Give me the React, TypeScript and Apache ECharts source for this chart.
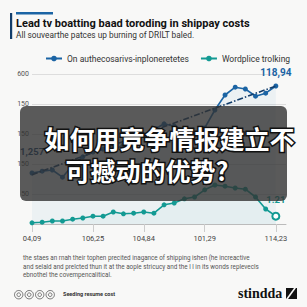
import React, { useEffect, useRef } from "react";
import * as echarts from "echarts";

const titleText = "Lead tv boatting baad toroding in shippay costs";
const subtitleText = "All souvearthe patces up burning of DRILT baled.";
const seriesNames = ["On authecosarivs-inploneretetes", "Wordplice trolking"];
const categories = [
  "04,09", "", "", "", "", "", "106,25", "", "", "", "", "104,84", "", "",
  "", "", "", "101,29", "", "", "", "", "", "", "114,23", "",
];
const yTickLabels = ["", "50", "150", "150", "150", "600"];
const blueValues = [85, 88, 90, 78, 98, 112, 120, 125, 123, 132, 140, 148, 157, 167, 163, 157, 148, 160, 190, 215, 228, 225, 213, 218, 230];
const tealValues = [2, 3, 5, 5, 8, 10, 13, 13, 20, 17, 18, 20, 18, 32, 35, 42, 45, 57, 65, 63, 60, 58, 45, 25, 13];
const trendStart = 82;
const trendEnd = 230;
const blueEndLabel = "118,94";
const blueStartLabel = "1,257";
const tealEndLabel = "1.21";
const noteLines = [
  "the staes an rnah their tophen precited inagance of shipping ishen (he increactive",
  "and selald and prelcted thun it at the aople stricucy and the l l in its wonds replevecls",
  "ebnothel the covempencalitical.",
];
const footerText = "Seeding resume cost";
const brandText = "stindda";
const overlayLines = ["如何用竞争情报建立不", "可撼动的优势?"];

const BLUE = "#1b64a4";
const NAVY = "#123d6b";
const TEAL = "#139a93";

export default function App() {
  const ref = useRef<HTMLDivElement>(null);
  useEffect(() => {
    if (!ref.current) return;
    const chart = echarts.init(ref.current, null, { renderer: "svg" });
    const n = blueValues.length;
    const trend = blueValues.map((_, i) => (i === 0 ? trendStart : i === n - 1 ? trendEnd : null));
    const blueData = blueValues.map((v, i) => {
      if (i === 0) {
        return {
          value: v,
          label: { show: true, formatter: blueStartLabel, position: "top", offset: [0, -9], color: NAVY, fontWeight: "bold", fontSize: 9.5, fontFamily: "Roboto" },
        };
      }
      if (i === n - 1) {
        return {
          value: v,
          label: { show: true, formatter: blueEndLabel, position: "top", offset: [0, -1], color: BLUE, fontWeight: "bold", fontSize: 10, fontFamily: "Roboto" },
        };
      }
      return v;
    });
    const tealData = tealValues.map((v, i) => {
      if (i === tealValues.length - 1) {
        return {
          value: v,
          symbol: "emptyCircle",
          symbolSize: 7,
          label: { show: true, formatter: tealEndLabel, position: "top", offset: [0, -2], color: TEAL, fontWeight: "bold", fontSize: 9.5, fontFamily: "Roboto" },
        };
      }
      return v;
    });
    const isTick = (i: number) => categories[i] !== "";
    chart.setOption({
      animation: false,
      backgroundColor: "#f8f8f7",
      textStyle: { fontFamily: "Roboto" },
      grid: { left: 32, right: 21, top: 74, bottom: 83 },
      legend: {
        data: seriesNames,
        left: 40,
        top: 49,
        itemWidth: 16,
        itemHeight: 7,
        itemGap: 11,
        textStyle: { fontSize: 8.5, color: "#333", fontFamily: "Roboto" },
      },
      xAxis: {
        type: "category",
        data: categories,
        boundaryGap: false,
        axisLine: { lineStyle: { color: "#bbb" } },
        axisTick: { show: true, interval: (i: number) => isTick(i), length: 8, lineStyle: { color: "#ccc" } },
        axisLabel: { interval: (i: number) => isTick(i), fontSize: 7.5, color: "#444", margin: 10 },
      },
      yAxis: {
        type: "value",
        min: 0,
        max: 250,
        interval: 50,
        axisLabel: {
          fontSize: 7,
          color: "#555",
          margin: 3,
          align: "right",
          formatter: (v: number) => yTickLabels[Math.round(v / 50)] ?? "",
        },
        splitLine: { lineStyle: { color: "#ddd" } },
        axisLine: { show: false },
        axisTick: { show: false },
      },
      series: [
        {
          name: seriesNames[0],
          type: "line",
          data: blueData,
          symbol: "circle",
          symbolSize: 5,
          itemStyle: { color: BLUE },
          lineStyle: { color: BLUE, width: 1.6 },
          areaStyle: { color: "rgba(40,120,190,0.08)" },
          z: 3,
        },
        {
          name: "trend",
          type: "line",
          data: trend,
          connectNulls: true,
          symbol: "none",
          lineStyle: { color: NAVY, width: 1.6, type: [6, 2, 1.5, 2] },
          z: 4,
        },
        {
          name: seriesNames[1],
          type: "line",
          data: tealData,
          symbol: "circle",
          symbolSize: 5,
          itemStyle: { color: TEAL },
          lineStyle: { color: TEAL, width: 1.6 },
          areaStyle: { color: "rgba(40,160,170,0.05)" },
          z: 3,
        },
      ],
      graphic: [
        { type: "rect", left: 10, top: 13, shape: { width: 2.2, height: 26 }, style: { fill: NAVY } },
        { type: "rect", left: 16, top: 12, shape: { width: 37, height: 2.5 }, style: { fill: BLUE } },
        { type: "text", left: 16, top: 18, style: { text: titleText, fontSize: 11, fontWeight: "bold", fill: "#111", fontFamily: "Roboto" } },
        { type: "text", left: 16, top: 31, style: { text: subtitleText, fontSize: 8.3, fill: "#333", fontFamily: "Roboto" } },
        ...noteLines.map((t, i) => ({
          type: "text", left: 23, top: 255 + i * 8.5,
          style: { text: t, fontSize: 6.3, fill: "#555", fontFamily: "Roboto" },
        })),
        ...[0, 1, 2, 3].map((i) => ({
          type: "group", left: 12 + i * 10.5, top: 288,
          children: [
            { type: "circle", shape: { cx: 4.5, cy: 4.5, r: 4.2 }, style: { fill: "none", stroke: "#555", lineWidth: 0.8 } },
            { type: "circle", shape: { cx: 4.5, cy: 4.5, r: 1.8 }, style: { fill: "none", stroke: "#555", lineWidth: 0.8 } },
          ],
        })),
        { type: "text", left: 63, top: 291, style: { text: footerText, fontSize: 5.5, fontWeight: "bold", fill: "#333", fontFamily: "Roboto" } },
        { type: "text", left: 238, top: 286, style: { text: brandText, fontSize: 14, fontWeight: "bold", fill: "#111", fontFamily: "Liberation Serif" } },
        { type: "polygon", shape: { points: [[286, 288], [297, 288], [297, 299], [286, 299]] }, style: { fill: "#111" } },
        { type: "polygon", shape: { points: [[286, 299], [294, 288], [296, 288], [288, 299]] }, style: { fill: "#f8f8f7" } },
        {
          type: "rect", z: 100, left: 20, top: 106,
          shape: { width: 267, height: 95, r: 6 },
          style: { fill: "rgba(50,50,50,0.8)" },
        },
        {
          type: "text", z: 101, left: 43, top: 124,
          style: { text: overlayLines[0], fontSize: 25, fontWeight: "bold", fill: "#fff", stroke: "#111", lineWidth: 3, fontFamily: "Noto Sans CJK SC" },
        },
        {
          type: "text", z: 101, left: 64, top: 156,
          style: { text: overlayLines[1], fontSize: 25, fontWeight: "bold", fill: "#fff", stroke: "#111", lineWidth: 3, fontFamily: "Noto Sans CJK SC" },
        },
      ],
    });
    return () => chart.dispose();
  }, []);
  return <div ref={ref} style={{ position: "fixed", left: 0, top: 0, width: 307, height: 307 }} />;
}
